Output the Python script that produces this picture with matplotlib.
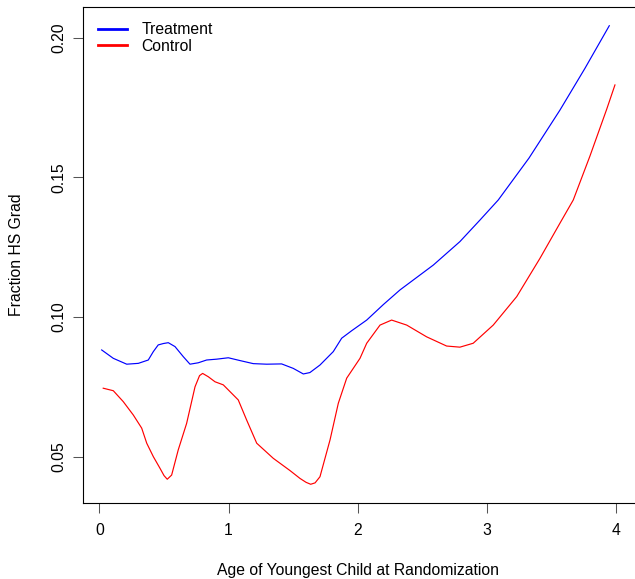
import matplotlib
matplotlib.use('Agg')
import matplotlib.pyplot as plt

plt.rcParams['font.family'] = ['Liberation Sans', 'DejaVu Sans']

# smoothed fraction of HS graduates by age of youngest child
treat_age = [0.017, 0.107, 0.211, 0.301, 0.378, 0.417, 0.455, 0.495, 0.533, 0.585, 0.649,
             0.701, 0.765, 0.830, 0.908, 0.998, 1.088, 1.191, 1.295, 1.411, 1.501,
             1.579, 1.630, 1.708, 1.811, 1.876, 1.954, 2.070, 2.200, 2.328, 2.586, 2.792,
             2.947, 3.089, 3.327, 3.567, 3.760, 3.949]
treat_frac = [0.0882, 0.0852, 0.0831, 0.0834, 0.0846, 0.0876, 0.0900, 0.0905, 0.0908, 0.0894, 0.0858,
              0.0831, 0.0836, 0.0846, 0.0849, 0.0854, 0.0844, 0.0833, 0.0831, 0.0832, 0.0816,
              0.0796, 0.0801, 0.0828, 0.0876, 0.0924, 0.0951, 0.0989, 0.1045, 0.1097, 0.1186, 0.1270,
              0.1347, 0.1419, 0.1569, 0.1741, 0.1890, 0.2043]

ctrl_age = [0.029, 0.107, 0.184, 0.262, 0.327, 0.366, 0.417, 0.469, 0.500, 0.525, 0.559,
            0.610, 0.675, 0.740, 0.775, 0.799, 0.843, 0.895, 0.959, 1.075, 1.140, 1.218,
            1.346, 1.476, 1.553, 1.600, 1.636, 1.670, 1.708, 1.786, 1.850, 1.915, 2.018, 2.070,
            2.173, 2.263, 2.380, 2.534, 2.689, 2.792, 2.895, 3.050, 3.232, 3.412,
            3.567, 3.670, 3.799, 3.929, 3.993]
ctrl_frac = [0.0745, 0.0736, 0.0697, 0.0649, 0.0602, 0.0548, 0.0500, 0.0458, 0.0432, 0.0419, 0.0434,
             0.0524, 0.0619, 0.0750, 0.0790, 0.0798, 0.0786, 0.0768, 0.0757, 0.0703, 0.0631, 0.0548,
             0.0494, 0.0450, 0.0422, 0.0408, 0.0401, 0.0406, 0.0428, 0.0560, 0.0691, 0.0781, 0.0852, 0.0906,
             0.0971, 0.0989, 0.0971, 0.0929, 0.0896, 0.0892, 0.0906, 0.0971, 0.1073, 0.1210,
             0.1336, 0.1419, 0.1576, 0.1744, 0.1831]

xticks = [0, 1, 2, 3, 4]
yticks = [0.05, 0.10, 0.15, 0.20]
ytick_labels = ['0.05', '0.10', '0.15', '0.20']

W, H = 635, 579
fig = plt.figure(figsize=(W / 100, H / 100), dpi=100)
ax = fig.add_axes([82.7 / W, 1 - 502.7 / H, (636 - 82.7) / W, (502.7 - 7.3) / H])

ax.plot(treat_age, treat_frac, color='#0000ff', lw=0.85)
ax.plot(ctrl_age, ctrl_frac, color='#ff0000', lw=0.85)

ax.set_xlim(-0.130, 4.156)
ax.set_ylim(0.0335, 0.2109)
ax.set_xticks(xticks)
ax.set_xticklabels([str(t) for t in xticks])
ax.set_yticks(yticks)
ax.set_yticklabels(ytick_labels)
ax.tick_params(length=7.5, width=0.75, labelsize=11.3, color='#555555')
ax.tick_params(axis='x', pad=7)
ax.tick_params(axis='y', pad=4)
plt.setp(ax.get_yticklabels(), rotation=90, va='center')
for s in ax.spines.values():
    s.set_linewidth(0.8)
ax.spines['right'].set_visible(False)

fig.text(358 / W, 1 - 570 / H, 'Age of Youngest Child at Randomization',
         ha='center', va='center', fontsize=11.3)
fig.text(17 / W, 1 - 255 / H, 'Fraction HS Grad', ha='center', va='center',
         rotation=90, fontsize=11.3)

ax.legend(['Treatment', 'Control'], loc='upper left', frameon=False, fontsize=11.3,
          handlelength=1.9, handletextpad=0.9, labelspacing=0.1,
          bbox_to_anchor=(0.0, 1.0), borderaxespad=0.55)
for ln in ax.get_legend().get_lines():
    ln.set_linewidth(2)

fig.savefig('out.png', dpi=100)
